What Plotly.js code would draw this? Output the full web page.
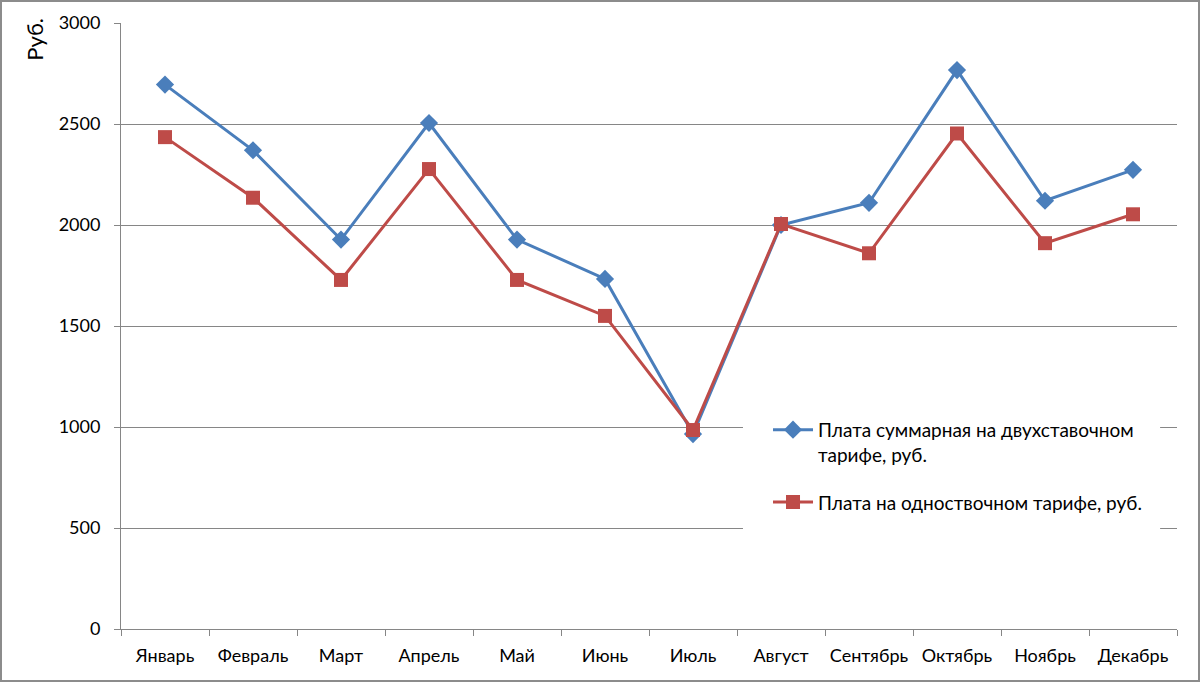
<!DOCTYPE html>
<html><head><meta charset="utf-8">
<script src="https://cdn.plot.ly/plotly-3.0.1.min.js"></script>
<style>html,body{margin:0;padding:0;background:#fff;}#wrap{position:relative;width:1200px;height:682px;}#frame{position:absolute;left:0;top:0;width:1200px;height:682px;box-sizing:border-box;border:2px solid #8c8c8c;pointer-events:none;}</style>
</head><body><div id="wrap"><div id="chart" style="width:1200px;height:682px;"></div><div id="frame"></div></div>
<script>
const months = ['Январь','Февраль','Март','Апрель','Май','Июнь','Июль','Август','Сентябрь','Октябрь','Ноябрь','Декабрь'];
const twoRate = [2695, 2370, 1928, 2505, 1928, 1733, 965, 2000, 2110, 2767, 2120, 2273];
const oneRate = [2435, 2135, 1728, 2277, 1728, 1550, 985, 2005, 1860, 2453, 1910, 2053];
const nameTwo = 'Плата суммарная на двухставочном<br>тарифе, руб.';
const nameOne = 'Плата на одноствочном тарифе, руб.';
const font = 'Lato, "Open Sans", sans-serif';
const data = [
 {x: months, y: twoRate, name: nameTwo, legendgroup:'a', type:'scatter', mode:'lines+markers',
  line:{color:'#4a7ebb', width:3}, marker:{symbol:'diamond', size:14, color:'#4a7ebb'}},
 {x: months, y: oneRate, name: nameOne, legendgroup:'b', type:'scatter', mode:'lines+markers',
  line:{color:'#be4b48', width:3}, marker:{symbol:'square', size:14, color:'#be4b48'}}
];
const layout = {
 width:1200, height:682,
 margin:{l:121, r:23, t:23, b:53},
 paper_bgcolor:'#fff', plot_bgcolor:'#fff',
 font:{family:font, size:18, color:'#000'},
 showlegend:true,
 legend:{x:0.6127, y:0.36, xanchor:'left', yanchor:'top', bgcolor:'rgba(0,0,0,0)', borderwidth:0,
   font:{family:font, size:19, color:'#000'}, tracegroupgap:20, itemwidth:40, valign:'top'},
 xaxis:{type:'category', tickson:'boundaries', ticks:'outside', ticklen:6, tickcolor:'#868686',
   showline:true, linecolor:'#868686', linewidth:1, showgrid:false, zeroline:false,
   range:[-0.5, 11.5], tickfont:{family:font, size:18}, ticklabelstandoff:10},
 yaxis:{range:[0,3000], dtick:500, ticks:'outside', ticklen:6, tickcolor:'#868686',
   showline:true, linecolor:'#868686', linewidth:1, showgrid:true, gridcolor:'#868686', gridwidth:1,
   zeroline:false, tickfont:{family:font, size:18}, ticklabelstandoff:10},
 shapes:[{type:'rect', xref:'paper', yref:'paper', x0:0.589, x1:0.984, y0:0.147, y1:0.37,
   fillcolor:'#fff', line:{width:0}, layer:'above'}],
 annotations:[{text:'Руб.', xref:'paper', yref:'paper', x:-0.082, y:1.012, xanchor:'center', yanchor:'top',
   textangle:-90, showarrow:false, font:{family:font, size:22, color:'#000'}}]
};
Plotly.newPlot('chart', data, layout, {displayModeBar:false, staticPlot:true});
</script></body></html>
